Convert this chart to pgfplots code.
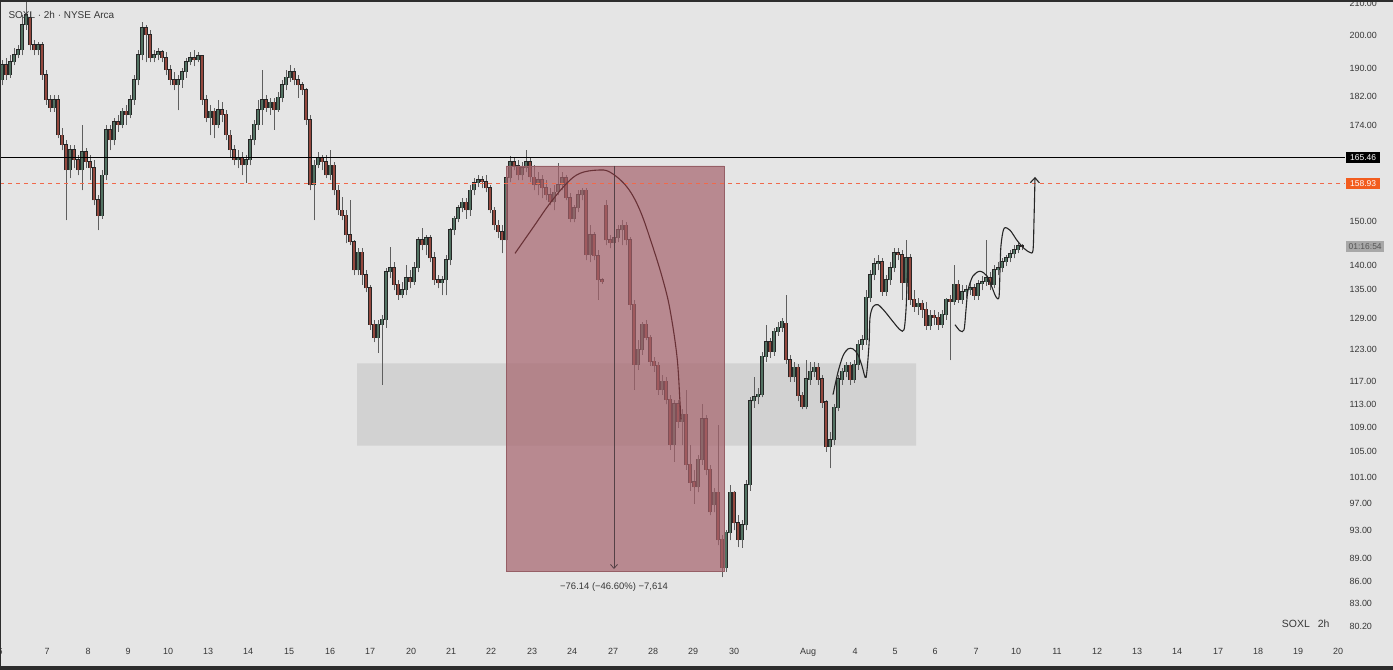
\documentclass[border=0pt]{standalone}
\usepackage{pgfplots}
\pgfplotsset{compat=1.18}
\usepackage{pgfplotstable}
\usepackage{fontspec}
\setmainfont{Liberation Sans}
\usetikzlibrary{arrows.meta}
\definecolor{bgc}{RGB}{229,229,229}
\definecolor{zonec}{RGB}{210,210,210}
\definecolor{rectc}{RGB}{166,99,108}
\definecolor{rectb}{RGB}{150,95,102}
\definecolor{upc}{RGB}{82,114,98}
\definecolor{dnc}{RGB}{148,72,62}
\definecolor{edgec}{RGB}{38,38,38}
\definecolor{wickc}{RGB}{95,95,95}
\definecolor{txtc}{RGB}{55,55,55}
\definecolor{orc}{RGB}{242,92,30}
\definecolor{dashc}{RGB}{240,105,75}
\definecolor{arcc}{RGB}{105,50,55}
\definecolor{barc}{RGB}{45,45,45}

\pgfplotstableread{
x o h l c
2 186.6 192.4 185.1 190.9
6 190.9 193.0 186.6 188.0
10 188.0 193.9 187.2 191.8
14 191.8 196.0 190.9 193.9
18 193.9 196.9 193.0 195.4
22 195.4 206.3 193.9 203.1
26 203.1 210.5 201.6 206.3
30 205.3 207.3 195.4 196.9
34 196.9 198.5 193.9 195.4
38 195.4 197.9 193.9 196.9
42 196.9 197.9 186.6 188.0
46 188.0 189.5 179.5 180.9
50 180.9 182.3 177.6 178.7
54 178.7 182.3 177.6 180.9
58 180.9 182.3 170.5 171.3
62 171.3 173.2 167.4 168.7
66 168.7 170.0 150.2 162.3
70 162.3 168.7 160.3 167.4
74 167.4 168.7 162.8 164.8
78 164.8 166.1 161.0 162.3
82 162.3 174.1 157.3 166.9
86 166.9 167.9 162.8 164.3
90 164.3 166.1 159.8 162.8
94 162.8 164.8 153.7 154.9
98 154.9 156.1 147.9 151.3
102 151.3 162.3 150.6 161.0
106 161.0 174.1 159.8 172.7
110 172.7 174.1 167.4 170.0
114 170.0 175.9 168.7 174.8
118 174.8 176.8 172.2 174.1
122 174.1 178.7 173.2 177.6
126 177.6 179.5 174.1 176.8
130 176.8 182.3 175.9 180.9
134 180.9 188.0 179.5 186.6
138 186.6 195.4 185.1 193.9
142 193.9 204.1 192.4 202.2
146 202.2 203.1 191.8 200.0
150 200.0 201.6 191.8 193.0
154 193.0 195.4 191.8 193.9
158 193.9 196.0 192.4 194.8
162 194.8 195.4 191.8 193.0
166 193.0 194.8 188.0 189.5
170 189.5 190.9 185.1 186.6
174 186.6 188.9 183.7 185.1
178 185.1 188.0 178.1 186.6
182 186.6 190.1 184.3 188.9
186 188.9 193.0 187.2 191.8
190 191.8 194.8 190.9 193.0
194 193.0 195.4 190.6 192.4
198 192.4 194.8 191.8 193.6
202 193.6 193.9 179.5 180.9
206 180.9 182.3 174.8 175.9
210 175.9 179.5 171.3 177.6
214 177.6 178.7 170.5 174.1
218 174.1 180.9 173.2 178.1
222 178.1 180.3 174.8 176.8
226 176.8 178.1 170.0 171.3
230 171.3 172.7 165.3 167.4
234 167.4 168.7 163.5 164.8
238 164.8 167.4 162.8 165.3
242 165.3 166.9 161.0 163.5
246 163.5 166.1 159.1 164.8
250 164.8 171.3 163.5 170.0
254 170.0 175.4 168.7 174.1
258 174.1 180.9 172.7 178.1
262 178.1 189.5 174.1 180.9
266 180.9 182.3 177.6 178.7
270 178.7 181.5 176.8 180.1
274 180.1 181.5 172.7 178.1
278 178.1 183.2 177.6 181.5
282 181.5 186.6 180.3 185.1
286 185.1 189.5 183.7 187.2
290 187.2 190.9 186.0 188.9
294 188.9 190.1 185.1 186.6
298 186.6 188.0 181.5 185.1
302 185.1 186.0 182.3 183.7
306 183.7 184.3 174.1 175.4
310 175.4 176.8 157.3 158.6
314 158.6 164.8 150.2 163.5
318 163.5 166.9 162.8 165.3
322 165.3 166.1 162.3 164.3
326 164.3 166.1 160.3 161.0
330 161.0 167.4 159.8 163.5
334 163.5 164.3 156.1 157.3
338 157.3 158.6 151.5 152.5
342 152.5 155.6 150.2 151.3
346 151.3 152.5 145.0 146.8
350 146.8 154.9 144.5 145.2
354 145.2 145.6 138.0 139.0
358 139.0 143.8 138.0 142.9
362 142.9 143.8 135.9 138.0
366 138.0 139.0 134.4 135.2
370 135.2 135.9 126.8 127.8
374 127.8 128.8 124.4 125.2
378 125.2 128.8 122.4 127.8
382 127.8 129.8 116.5 128.8
386 128.8 139.5 127.2 138.6
390 138.6 144.0 137.3 139.5
394 139.5 140.8 134.8 135.9
398 135.9 136.9 132.8 133.8
402 133.8 136.5 133.2 134.8
406 134.8 140.1 133.8 137.3
410 137.3 139.0 135.2 136.5
414 136.5 140.8 135.9 139.5
418 139.5 146.3 138.6 145.6
422 145.6 148.3 143.4 144.5
426 144.5 146.8 142.3 146.1
430 146.1 146.8 140.8 141.6
434 141.6 142.9 135.9 136.9
438 136.9 138.0 135.2 136.3
442 136.3 137.8 133.8 136.9
446 136.9 142.3 133.8 141.2
450 141.2 148.3 140.1 147.9
454 147.9 151.3 146.8 150.6
458 150.6 153.7 149.7 153.0
462 153.0 155.4 152.1 154.4
466 154.4 155.4 150.6 152.5
470 152.5 158.6 151.3 157.3
474 157.3 160.3 156.1 159.1
478 159.1 161.0 158.1 159.8
482 159.8 160.8 157.8 159.3
486 159.3 161.0 156.8 157.8
490 157.8 158.6 151.8 152.5
494 152.5 153.2 147.9 149.0
498 149.0 150.2 146.1 147.5
502 147.5 149.0 142.7 145.6
506 145.6 161.0 144.5 160.3
510 160.3 165.8 159.3 164.3
514 164.3 165.3 162.3 163.3
518 163.3 164.8 159.8 161.0
522 161.0 164.3 159.8 162.8
526 162.8 167.4 161.8 164.3
530 164.3 165.3 159.3 160.5
534 160.5 163.5 157.3 158.6
538 158.6 161.8 156.1 159.8
542 159.8 161.0 155.4 157.8
546 157.8 159.8 154.9 156.1
550 156.1 157.8 153.7 154.4
554 154.4 158.6 152.5 156.8
558 156.8 164.0 156.1 158.6
562 158.6 161.8 157.3 160.3
566 160.3 161.0 154.9 155.4
570 155.4 156.6 149.7 150.6
574 150.6 153.7 149.7 153.0
578 153.0 157.3 152.1 156.1
582 156.1 157.8 154.9 157.3
586 157.3 157.8 141.2 142.3
590 142.3 149.0 140.8 146.8
594 146.8 147.5 141.2 142.1
598 142.1 143.4 132.8 136.9
602 136.9 137.3 136.1 136.5
606 153.7 154.9 144.5 145.6
610 145.6 146.8 143.8 145.0
614 145.0 147.2 144.5 146.1
618 146.1 149.0 145.2 147.9
622 147.9 150.2 144.5 149.0
626 149.0 149.7 144.5 145.6
630 145.6 146.3 130.8 131.8
634 131.8 132.8 115.6 120.1
638 120.1 124.8 119.2 122.9
642 122.9 128.4 122.0 127.8
646 127.8 128.8 124.8 125.2
650 125.2 125.8 119.9 120.7
654 120.7 121.6 118.8 119.9
658 119.9 120.7 114.7 115.6
662 115.6 118.3 114.7 117.0
666 117.0 117.8 113.0 113.8
670 113.8 114.7 105.3 106.1
674 106.1 113.8 103.4 113.0
678 113.0 113.8 109.0 110.0
682 110.0 112.1 106.1 111.2
686 111.2 115.6 102.1 102.9
690 102.9 106.1 98.9 100.1
694 100.1 102.1 96.9 99.4
698 99.4 104.5 98.6 103.7
702 103.7 113.0 102.9 110.4
706 110.4 111.2 101.3 102.1
710 102.1 102.9 95.2 95.6
714 96.7 99.3 95.6 98.5
718 98.5 109.5 90.9 91.6
722 91.6 92.3 86.5 87.8
726 87.8 93.0 87.2 92.6
730 92.6 99.7 91.6 98.5
734 98.5 98.9 93.0 94.0
738 94.0 95.2 90.6 91.6
742 91.6 94.5 90.5 93.7
746 93.7 100.5 93.0 99.7
750 99.7 114.2 98.9 113.5
754 113.5 117.9 112.4 114.2
758 114.2 115.9 113.0 114.7
762 114.7 122.6 114.2 121.6
766 121.6 127.8 120.7 124.4
770 124.4 125.2 121.4 122.6
774 122.6 127.2 121.8 126.4
778 126.4 128.4 125.6 127.2
782 127.2 129.2 126.4 128.4
786 128.0 133.8 120.3 121.0
790 121.0 122.0 117.0 117.8
794 117.8 120.7 117.0 119.6
798 119.6 120.3 113.5 114.5
802 114.5 115.2 112.1 112.6
806 112.6 121.0 112.1 117.4
810 117.4 120.7 116.5 118.8
814 118.8 120.7 117.8 119.6
818 119.6 120.5 116.5 117.4
822 117.4 118.3 112.4 113.3
826 113.3 113.8 105.0 105.8
830 105.8 108.3 102.4 106.9
834 106.9 113.0 106.1 112.4
838 112.4 118.3 111.8 117.4
842 117.4 119.6 116.5 118.8
846 118.8 120.7 117.8 119.9
850 119.9 120.7 116.5 117.4
854 117.4 121.0 116.8 120.1
858 120.1 124.8 119.2 123.9
862 123.9 125.8 122.9 124.8
866 124.8 134.8 123.9 133.2
870 133.2 139.0 132.4 138.0
874 138.0 141.6 136.9 140.3
878 140.3 142.3 139.0 140.8
882 140.8 141.6 133.6 134.4
886 134.4 138.0 133.6 136.9
890 136.9 140.8 135.9 139.5
894 139.5 143.8 138.6 142.7
898 142.7 143.8 141.2 142.3
902 142.3 143.4 132.8 136.3
906 136.3 145.6 133.8 141.6
910 141.6 142.5 131.8 132.8
914 132.8 134.8 130.4 131.4
918 131.4 133.2 129.8 132.0
922 132.0 132.8 129.2 130.8
926 130.8 132.4 126.8 127.6
930 127.6 130.8 126.8 129.6
934 129.6 130.8 127.8 129.2
938 129.2 130.4 126.8 127.8
942 127.8 130.8 127.2 129.8
946 129.8 133.2 128.8 132.8
950 132.8 133.8 121.0 132.4
954 132.4 140.1 131.8 135.9
958 135.9 136.9 132.2 132.8
962 132.8 135.9 132.0 134.4
966 134.4 135.9 133.2 134.8
970 134.8 136.5 133.8 135.2
974 135.2 136.1 132.8 133.6
978 133.6 136.9 132.8 136.1
982 136.1 137.8 134.8 136.5
986 136.5 145.6 135.7 137.3
990 137.3 138.6 134.8 135.9
994 135.9 140.1 135.2 139.0
998 139.0 140.8 138.0 139.5
1002 139.5 141.6 138.6 140.8
1006 140.8 142.3 139.9 141.6
1010 141.6 143.4 140.8 142.5
1014 142.5 144.5 141.6 143.4
1018 143.4 145.0 142.7 144.3
1022 144.3 144.7 143.4 144.0
}\candles

\pgfplotsset{candlebar/.style={only marks, mark=*, mark size=0pt, mark options={draw=none, fill=none}, forget plot}}

\begin{document}
\begin{tikzpicture}
\fill[bgc] (0,-25bp) rectangle (1393bp,645bp);
\begin{axis}[
  at={(0,0)}, anchor=south west,
  width=1345bp, height=645bp, scale only axis,
  xmin=0, xmax=1345, ymode=log, ymin=77.91, ymax=211.13,
  clip=false,
  axis line style={draw=none},
  major tick length=0pt, minor tick length=0pt,
  tick style={draw=none},
  xtick={0,47,88,128,168,208,248,289,330,370,411,451,491,532,572,613,653,693,734,808,855,895,935,976,1016,1057,1097,1137,1177,1218,1258,1298,1338},
  xticklabels={6,7,8,9,10,13,14,15,16,17,20,21,22,23,24,27,28,29,30,Aug,4,5,6,7,10,11,12,13,14,17,18,19,20},
  ytick={80.2,83,86,89,93,97,101,105,109,113,117,123,129,135,140,150,174,182,190,200,210},
  yticklabels={80.20,83.00,86.00,89.00,93.00,97.00,101.00,105.00,109.00,113.00,117.00,123.00,129.00,135.00,140.00,150.00,174.00,182.00,190.00,200.00,210.00},
  minor ytick={},
  yticklabel pos=right,
  tick label style={font=\fontsize{9}{10}\selectfont, text=txtc},
  yticklabel style={anchor=west, xshift=1bp},
  /pgf/number format/assume math mode=true,
]
% demand zone
\addplot[fill=zonec, draw=none, forget plot] coordinates {(357,106.0) (916,106.0) (916,120.4) (357,120.4) (357,106.0)};
% wicks
\addplot[candlebar,
  error bars/.cd, y dir=plus, y explicit, error mark=none,
  error bar style={draw=wickc, line width=0.75bp}]
  table[x=x, y=l, y error plus expr={\thisrow{h}-\thisrow{l}}] {\candles};
% body outlines
\addplot[candlebar,
  error bars/.cd, y dir=plus, y explicit, error mark=none,
  error bar style={draw=edgec, line width=3.2bp}]
  table[x=x, y expr={min(\thisrow{o},\thisrow{c})}, y error plus expr={abs(\thisrow{c}-\thisrow{o})+0.2}] {\candles};
% up bodies
\addplot[candlebar,
  x filter/.expression={\thisrow{c}>=\thisrow{o} ? x : nan},
  error bars/.cd, y dir=plus, y explicit, error mark=none,
  error bar style={draw=upc, line width=2.0bp}]
  table[x=x, y=o, y error plus expr={\thisrow{c}-\thisrow{o}+0.1}] {\candles};
% down bodies
\addplot[candlebar,
  x filter/.expression={\thisrow{c}<\thisrow{o} ? x : nan},
  error bars/.cd, y dir=plus, y explicit, error mark=none,
  error bar style={draw=dnc, line width=2.0bp}]
  table[x=x, y=c, y error plus expr={\thisrow{o}-\thisrow{c}+0.1}] {\candles};
% measurement rectangle
\addplot[fill=rectc, fill opacity=0.7, draw=rectb, line width=0.6bp, forget plot] coordinates {(506,87.25) (724,87.25) (724,163.39) (506,163.39) (506,87.25)};
\addplot[draw={rgb,255:red,85;green,65;blue,70}, line width=0.8bp, -{Straight Barb[length=4bp,width=7bp]}, forget plot] coordinates {(614,163.39) (614,87.6)};
% levels
\addplot[draw=black, line width=1bp, forget plot] coordinates {(0,165.46) (1345,165.46)};
\addplot[draw=dashc, line width=1.2bp, dash pattern=on 4bp off 4bp, forget plot] coordinates {(0,158.93) (1345,158.93)};
% arc drawing
\addplot[draw=arcc, line width=1.1bp, smooth, tension=0.6, forget plot] coordinates {
(515,142.7) (533,148.5) (550,154.2) (567,159.1) (580,161.5) (597,162.3) (610,161.8) (627,158.1) (640,152.5) (653,144.0) (663,136.9) (670,130.8) (677,121.6) (680,113.3) (681,110.4)};
% projection paths
\addplot[draw=edgec, line width=1.1bp, smooth, tension=0.5, forget plot] coordinates {
(833,114.7) (838,118.8) (843,121.8) (848,123.1) (853,123.1) (858,122.0) (862,119.9) (866,117.8) (869,123.9) (870,129.2) (873,131.4) (878,131.8) (885,130.4) (893,128.4) (900,126.8) (904,126.8) (906,130.8) (907,135.9) (908,140.8)};
\addplot[draw=edgec, line width=1.1bp, smooth, tension=0.5, -{Straight Barb[length=5bp,width=9bp]}, forget plot] coordinates {
(955,127.8) (960,126.6) (964,126.8) (966,130.8) (968,134.8) (973,137.8) (980,138.8) (987,137.8) (992,135.4) (996,133.4) (999,133.4) (1000,139.0) (1001,144.5) (1004,148.3) (1010,147.9) (1017,145.6) (1024,143.8) (1030,142.9) (1033,143.4) (1034,150.2) (1035,160.6)};
% texts
\node[anchor=north, text=txtc, font=\fontsize{9.5}{11}\selectfont] at (axis cs:614,86.3) {−76.14 (−46.60\%) −7,614};
\node[anchor=west, text=txtc, font=\fontsize{10}{12}\selectfont] at (axis cs:5,206.3) {SOXL · 2h · NYSE Arca};
\node[anchor=east, text=txtc, font=\fontsize{10.5}{12}\selectfont] at (axis cs:1333,80.5) {SOXL\hspace{8bp}2h};
\node[anchor=west, fill=black, text=white, font=\fontsize{8.5}{10}\selectfont, inner xsep=4bp, inner ysep=2.5bp] at (axis cs:1346,165.46) {165.46};
\node[anchor=west, fill=orc, text=white, font=\fontsize{8.5}{10}\selectfont, inner xsep=4bp, inner ysep=2.5bp] at (axis cs:1346,158.93) {158.93};
\node[anchor=west, fill={rgb,255:red,168;green,168;blue,168}, text={rgb,255:red,85;green,85;blue,85}, font=\fontsize{8.5}{10}\selectfont, inner xsep=2.5bp, inner ysep=2.5bp] at (axis cs:1346,144.3) {01:16:54};
\end{axis}
\fill[barc] (0,642.5bp) rectangle (1393bp,645bp);
\fill[barc] (0,-25bp) rectangle (1393bp,-21bp);
\fill[barc] (0,-25bp) rectangle (1.2bp,645bp);
\pgfresetboundingbox
\path[use as bounding box] (0,-25bp) rectangle (1393bp,645bp);
\end{tikzpicture}
\end{document}
